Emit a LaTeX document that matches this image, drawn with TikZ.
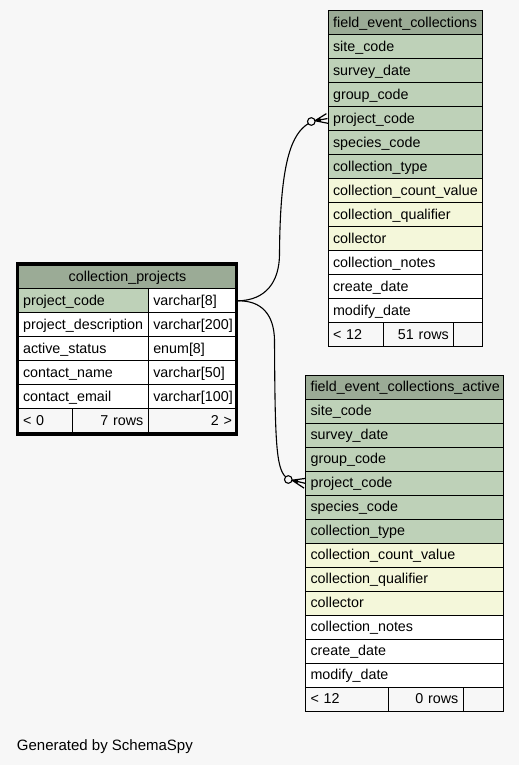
\documentclass[tikz,border=0pt]{standalone}
\usepackage{fontspec}
\setmainfont{Liberation Sans}
\usetikzlibrary{calc}
\definecolor{bgc}{HTML}{F7F7F7}
\definecolor{hdrc}{HTML}{9BAB96}
\definecolor{keyc}{HTML}{BED1B8}
\definecolor{idxc}{HTML}{F4F7DA}
\definecolor{footc}{HTML}{F7F7F7}
\newcommand{\tabfont}{\fontsize{14.3}{16}\selectfont}
\newcommand{\tcell}[7]{%
  \pgfmathsetmacro{\cellTW}{#4-10}%
  \node[cellbox, fill=#5, minimum width=#4pt, text width=\cellTW pt, align=#6] (#1) at (#2,#3) {#7};}
\tikzset{
  cellbox/.style={draw, line width=1.1pt, anchor=north west, inner xsep=5pt, inner ysep=0pt,
    minimum height=24pt, text height=11pt, text depth=2pt, font=\tabfont},
  conn/.style={line width=1.1pt},
  crowline/.style={line width=1.2pt},
  odot/.style={circle, draw, line width=1.1pt, fill=bgc, minimum size=7.6pt, inner sep=0pt, outer sep=0pt}
}
\begin{document}
\begin{tikzpicture}[x=1pt,y=-1pt]
\useasboundingbox[fill=bgc] (0,0) rectangle (519,765);

% ---------- field_event_collections ----------
\tcell{t1h}{327.5}{10}{154.2}{hdrc}{center}{field\_event\_collections}
\foreach \i/\t/\f in {1/site\_code/keyc, 2/survey\_date/keyc, 3/group\_code/keyc,
  4/project\_code/keyc, 5/species\_code/keyc, 6/collection\_type/keyc,
  7/collection\_count\_value/idxc, 8/collection\_qualifier/idxc, 9/collector/idxc,
  10/collection\_notes/white, 11/create\_date/white, 12/modify\_date/white}{
  \tcell{t1r\i}{327.5}{{10+24*\i}}{154.2}{\f}{left}{\t}
}
\tcell{t1f1}{327.5}{322}{55.8}{footc}{left}{< 12}
\tcell{t1f2}{383.3}{322}{70}{footc}{right}{51 rows}
\tcell{t1f3}{453.3}{322}{28.4}{footc}{right}{}

% ---------- field_event_collections_active ----------
\tcell{t2h}{305}{374.7}{197.7}{hdrc}{center}{field\_event\_collections\_active}
\foreach \i/\t/\f in {1/site\_code/keyc, 2/survey\_date/keyc, 3/group\_code/keyc,
  4/project\_code/keyc, 5/species\_code/keyc, 6/collection\_type/keyc,
  7/collection\_count\_value/idxc, 8/collection\_qualifier/idxc, 9/collector/idxc,
  10/collection\_notes/white, 11/create\_date/white, 12/modify\_date/white}{
  \tcell{t2r\i}{305}{{374.7+24*\i}}{197.7}{\f}{left}{\t}
}
\tcell{t2f1}{305}{686.7}{82.7}{footc}{left}{< 12}
\tcell{t2f2}{387.7}{686.7}{75}{footc}{right}{0 rows}
\tcell{t2f3}{462.7}{686.7}{40}{footc}{right}{}

% ---------- collection_projects ----------
\tcell{t3h}{17.5}{264.3}{219}{hdrc}{center}{collection\_projects}
\foreach \i/\n/\ty/\f in {1/project\_code/varchar[8]/keyc, 2/project\_description/varchar[200]/white,
  3/active\_status/enum[8]/white, 4/contact\_name/varchar[50]/white, 5/contact\_email/varchar[100]/white}{
  \tcell{t3r\i a}{17.5}{{264.3+24*\i}}{130.2}{\f}{left}{\n}
  \tcell{t3r\i b}{147.7}{{264.3+24*\i}}{88.8}{white}{left}{\ty}
}
\tcell{t3f1}{17.5}{408.3}{54.5}{footc}{left}{< 0}
\tcell{t3f2}{72}{408.3}{75.7}{footc}{right}{7 rows}
\tcell{t3f3}{147.7}{408.3}{88.8}{footc}{right}{2 >}
\draw[line width=3.3pt] (17.7,263.9) rectangle (236.3,434.6);

% ---------- connectors ----------
\node[odot] (o1) at (311.3,121.5) {};
\node[odot] (o2) at (288.3,479.5) {};
\draw[conn] (t3r1b.east) .. controls (266,300.3) and (279,282) .. (279.5,255)
  .. controls (280,160) and (292,134) .. (o1.215);
\draw[conn] (t3r1b.east) .. controls (262,300.3) and (274,315) .. (274.5,340)
  .. controls (275,440) and (276,468) .. (o2.135);
% crow's feet
\coordinate (v1) at (o1.12);
\draw[crowline] (v1) -- ($(t1r4.west)+(1.1,4.9)$) (v1) -- (t1r4.west) (v1) -- ($(t1r4.west)+(-1.1,-4.9)$);
\fill (v1) -- ($(v1)!0.45!($(t1r4.west)+(1.1,4.9)$)$) -- ($(v1)!0.45!($(t1r4.west)+(-1.1,-4.9)$)$) -- cycle;
\coordinate (v2) at (o2.-11);
\draw[crowline] (v2) -- ($(t2r4.west)+(-0.9,4.9)$) (v2) -- (t2r4.west) (v2) -- ($(t2r4.west)+(0.9,-4.9)$);
\fill (v2) -- ($(v2)!0.45!($(t2r4.west)+(-0.9,4.9)$)$) -- ($(v2)!0.45!($(t2r4.west)+(0.9,-4.9)$)$) -- cycle;

\node[anchor=base west, inner sep=0pt, font=\fontsize{15}{18}\selectfont] (gen) at (16.7,750) {Generated by SchemaSpy};
\end{tikzpicture}
\end{document}
